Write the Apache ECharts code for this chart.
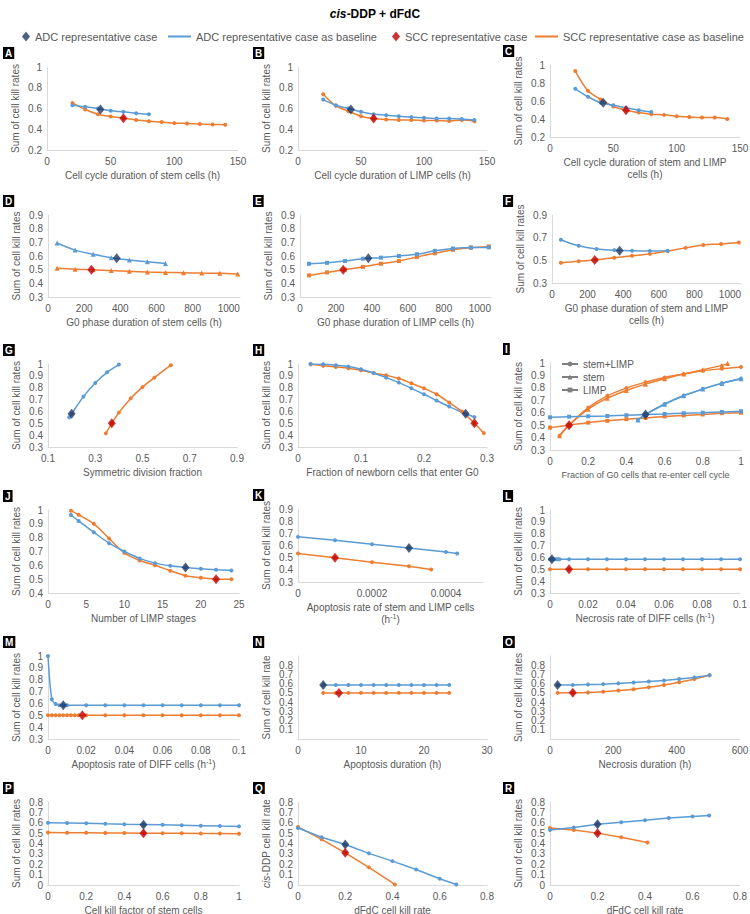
<!DOCTYPE html>
<html><head><meta charset="utf-8">
<script src="https://cdn.jsdelivr.net/npm/echarts@6/dist/echarts.min.js"></script>
<style>html,body{margin:0;padding:0;background:#fff}#c{width:750px;height:914px}</style>
</head><body><div id="c"></div>
<script>
// ---------------- DATA ----------------
const A_adcBase = [[20,0.632],[30,0.616],[40,0.6],[50,0.578],[60,0.568],[70,0.555],[80,0.545]];
const A_sccBase = [[20,0.654],[30,0.59],[40,0.545],[50,0.523],[60,0.507],[70,0.49],[80,0.478],[90,0.469],[100,0.459],[110,0.456],[120,0.45],[130,0.446],[140,0.443]];
const A_adc = [[42,0.59]], A_scc = [[60,0.505]];

const B_adcBase = [[20,0.686],[30,0.632],[40,0.6],[50,0.568],[60,0.545],[70,0.536],[80,0.526],[90,0.517],[100,0.51],[110,0.504],[120,0.504],[130,0.498],[140,0.49]];
const B_sccBase = [[20,0.738],[30,0.626],[40,0.574],[50,0.526],[60,0.504],[70,0.494],[80,0.49],[90,0.49],[100,0.485],[110,0.485],[120,0.48],[130,0.488],[140,0.478]];
const B_adc = [[42,0.59]], B_scc = [[60,0.504]];

const C_adcBase = [[20,0.736],[30,0.647],[40,0.58],[50,0.553],[60,0.524],[70,0.498],[80,0.479]];
const C_sccBase = [[20,0.933],[30,0.713],[40,0.617],[50,0.539],[60,0.498],[70,0.472],[80,0.453],[90,0.446],[100,0.431],[110,0.423],[120,0.416],[130,0.416],[140,0.401]];
const C_adc = [[42,0.58]], C_scc = [[60,0.498]];

const D_adcBase = [[50,0.695],[150,0.643],[250,0.613],[350,0.588],[450,0.57],[550,0.558],[650,0.545]];
const D_sccBase = [[50,0.51],[150,0.503],[250,0.5],[350,0.493],[450,0.488],[550,0.483],[650,0.48],[750,0.478],[850,0.475],[950,0.473],[1050,0.468]];
const D_adc = [[380,0.583]], D_scc = [[240,0.5]];

const E_adcBase = [[50,0.543],[150,0.55],[250,0.563],[350,0.58],[450,0.588],[550,0.6],[650,0.613],[750,0.638],[850,0.655],[950,0.663],[1050,0.663]];
const E_sccBase = [[50,0.458],[150,0.48],[250,0.5],[350,0.52],[450,0.543],[550,0.563],[650,0.593],[750,0.62],[850,0.645],[950,0.66],[1050,0.67]];
const E_adc = [[380,0.583]], E_scc = [[240,0.5]];

const F_adcBase = [[50,0.682],[150,0.628],[250,0.6],[350,0.59],[450,0.585],[550,0.583],[650,0.585]];
const F_sccBase = [[50,0.478],[150,0.492],[250,0.505],[350,0.523],[450,0.54],[550,0.557],[650,0.582],[750,0.61],[850,0.635],[950,0.645],[1050,0.658]];
const F_adc = [[380,0.585]], F_scc = [[240,0.503]];

const G_adcBase = [[0.19,0.55],[0.2,0.58],[0.25,0.725],[0.3,0.84],[0.35,0.93],[0.4,0.995]];
const G_sccBase = [[0.345,0.415],[0.37,0.5],[0.4,0.59],[0.45,0.71],[0.5,0.805],[0.55,0.885],[0.62,0.99]];
const G_adc = [[0.2,0.58]], G_scc = [[0.37,0.5]];

const H_adcBase = [[0.02,1.0],[0.04,0.997],[0.06,0.989],[0.08,0.978],[0.1,0.955],[0.12,0.924],[0.14,0.885],[0.16,0.843],[0.18,0.795],[0.2,0.745],[0.22,0.692],[0.24,0.641],[0.266,0.58],[0.28,0.552]];
const H_sccBase = [[0.02,0.997],[0.04,0.986],[0.06,0.975],[0.08,0.964],[0.1,0.947],[0.12,0.924],[0.14,0.905],[0.16,0.877],[0.18,0.837],[0.2,0.795],[0.22,0.745],[0.24,0.675],[0.26,0.6],[0.28,0.5],[0.295,0.417]];
const H_adc = [[0.266,0.58]], H_scc = [[0.28,0.5]];

const I_adcStemLimp = [[0.46,0.542],[0.5,0.585],[0.6,0.67],[0.7,0.738],[0.8,0.792],[0.9,0.838],[1.0,0.876]];
const I_adcStem = [[0.46,0.542],[0.5,0.585],[0.6,0.668],[0.7,0.736],[0.8,0.79],[0.9,0.836],[1.0,0.874]];
const I_adcLimp = [[0,0.563],[0.1,0.568],[0.2,0.571],[0.3,0.574],[0.4,0.58],[0.5,0.585],[0.6,0.59],[0.7,0.596],[0.8,0.6],[0.9,0.606],[1.0,0.612]];
const I_sccStemLimp = [[0.05,0.415],[0.1,0.5],[0.2,0.641],[0.3,0.736],[0.4,0.798],[0.5,0.846],[0.6,0.884],[0.7,0.911],[0.8,0.938],[0.9,0.954],[1.0,0.968]];
const I_sccStem = [[0.05,0.415],[0.1,0.5],[0.2,0.628],[0.3,0.717],[0.4,0.779],[0.5,0.83],[0.6,0.873],[0.7,0.911],[0.8,0.946],[0.9,0.981],[0.93,0.995]];
const I_sccLimp = [[0,0.48],[0.1,0.5],[0.2,0.52],[0.3,0.535],[0.4,0.548],[0.5,0.558],[0.6,0.57],[0.7,0.578],[0.8,0.586],[0.9,0.596],[1.0,0.6]];
const I_adc = [[0.5,0.585]], I_scc = [[0.1,0.5]];

const J_adcBase = [[3,0.964],[4,0.921],[6,0.839],[8,0.76],[10,0.7],[12,0.65],[14,0.616],[16,0.597],[18,0.585],[20,0.575],[22,0.568],[24,0.563]];
const J_sccBase = [[3,0.995],[4,0.966],[6,0.9],[8,0.794],[10,0.69],[12,0.635],[14,0.6],[16,0.561],[18,0.525],[20,0.51],[22,0.5],[24,0.5]];
const J_adc = [[18,0.585]], J_scc = [[22,0.5]];

const K_adcBase = [[0,0.671],[0.0001,0.643],[0.0002,0.611],[0.0003,0.58],[0.0004,0.546],[0.00043,0.534]];
const K_sccBase = [[0,0.534],[0.0001,0.5],[0.0002,0.463],[0.0003,0.429],[0.00036,0.403]];
const K_adc = [[0.0003,0.58]], K_scc = [[0.0001,0.5]];

const L_adcBase = [[0,0.585],[0.001,0.585],[0.002,0.585],[0.003,0.585],[0.004,0.585],[0.005,0.585],[0.01,0.585],[0.02,0.585],[0.03,0.585],[0.04,0.585],[0.05,0.585],[0.06,0.585],[0.07,0.585],[0.08,0.585],[0.09,0.585],[0.1,0.585]];
const L_sccBase = [[0,0.5],[0.01,0.5],[0.02,0.5],[0.03,0.5],[0.04,0.5],[0.05,0.5],[0.06,0.5],[0.07,0.5],[0.08,0.5],[0.09,0.5],[0.1,0.5]];
const L_adc = [[0.001,0.585]], L_scc = [[0.01,0.5]];

const M_adcBase = [[0,1.0],[0.002,0.635],[0.004,0.595],[0.006,0.585],[0.008,0.585],[0.01,0.585],[0.02,0.585],[0.03,0.585],[0.04,0.585],[0.05,0.585],[0.06,0.585],[0.07,0.585],[0.08,0.585],[0.09,0.585],[0.1,0.585]];
const M_sccBase = [[0,0.5],[0.002,0.5],[0.004,0.5],[0.006,0.5],[0.008,0.5],[0.01,0.5],[0.012,0.5],[0.014,0.5],[0.016,0.5],[0.02,0.5],[0.03,0.5],[0.04,0.5],[0.05,0.5],[0.06,0.5],[0.07,0.5],[0.08,0.5],[0.09,0.5],[0.1,0.5]];
const M_adc = [[0.008,0.585]], M_scc = [[0.018,0.5]];

const N_adcBase = [[4,0.585],[6,0.585],[8,0.585],[10,0.585],[12,0.585],[14,0.585],[16,0.585],[18,0.585],[20,0.585],[22,0.585],[24,0.585]];
const N_sccBase = [[4,0.5],[6,0.5],[8,0.5],[10,0.5],[12,0.5],[14,0.5],[16,0.5],[18,0.5],[20,0.5],[22,0.5],[24,0.5]];
const N_adc = [[4,0.585]], N_scc = [[6.5,0.5]];

const O_adcBase = [[24,0.585],[72,0.586],[120,0.59],[168,0.595],[216,0.603],[264,0.612],[312,0.623],[360,0.635],[408,0.65],[456,0.668],[504,0.69]];
const O_sccBase = [[24,0.5],[72,0.501],[120,0.505],[168,0.513],[216,0.525],[264,0.54],[312,0.56],[360,0.585],[408,0.615],[456,0.65],[504,0.695]];
const O_adc = [[24,0.585]], O_scc = [[72,0.501]];

const P_adcBase = [[0,0.6],[0.1,0.598],[0.2,0.595],[0.3,0.59],[0.4,0.586],[0.5,0.583],[0.6,0.58],[0.7,0.576],[0.8,0.572],[0.9,0.568],[1.0,0.565]];
const P_sccBase = [[0,0.505],[0.1,0.504],[0.2,0.503],[0.3,0.502],[0.4,0.501],[0.5,0.5],[0.6,0.499],[0.7,0.498],[0.8,0.497],[0.9,0.496],[1.0,0.495]];
const P_adc = [[0.5,0.58]], P_scc = [[0.5,0.5]];

const Q_adcBase = [[0,0.55],[0.1,0.46],[0.2,0.39],[0.3,0.305],[0.4,0.23],[0.5,0.15],[0.6,0.06],[0.67,0.005]];
const Q_sccBase = [[0,0.56],[0.1,0.44],[0.2,0.31],[0.3,0.17],[0.41,0.005]];
const Q_adc = [[0.2,0.39]], Q_scc = [[0.2,0.31]];

const R_adcBase = [[0,0.53],[0.1,0.555],[0.2,0.585],[0.3,0.605],[0.4,0.625],[0.5,0.645],[0.6,0.66],[0.67,0.67]];
const R_sccBase = [[0,0.55],[0.1,0.53],[0.2,0.5],[0.3,0.46],[0.41,0.41]];
const R_adc = [[0.2,0.585]], R_scc = [[0.2,0.5]];

const panelLetters = ['A','B','C','D','E','F','G','H','I','J','K','L','M','N','O','P','Q','R'];
const xTitles = [
 'Cell cycle duration of stem cells (h)','Cell cycle duration of LIMP cells (h)','Cell cycle duration of stem and LIMP\ncells (h)',
 'G0 phase duration of stem cells (h)','G0 phase duration of LIMP cells (h)','G0 phase duration of stem and LIMP\ncells (h)',
 'Symmetric division fraction','Fraction of newborn cells that enter G0','Fraction of G0 cells that re-enter cell cycle',
 'Number of LIMP stages','Apoptosis rate of stem and LIMP cells\n(h{sup|-1})','Necrosis rate of DIFF cells (h{sup|-1})',
 'Apoptosis rate of DIFF cells (h{sup|-1})','Apoptosis duration (h)','Necrosis duration (h)',
 'Cell kill factor of stem cells','dFdC cell kill rate','dFdC cell kill rate'];
const yTitleMain = 'Sum of cell kill rates';
const yTitleN = 'Sum of cell kill rate';
const yTitleQ = '{it|cis}-DDP cell kill rate';
const legendNames = ['ADC representative case','ADC representative case as baseline','SCC representative case','SCC representative case as baseline'];
const innerLegendNames = ['stem+LIMP','stem','LIMP'];
// axis ranges [xmin,xmax,xtickInterval,xlabelStep,ymin,ymax,yint]
const axisRanges = [
 [0,150,50,50,0.2,1,0.2],[0,150,50,50,0.2,1,0.2],[0,150,50,50,0.2,1,0.2],
 [0,1062,200,200,0.3,0.9,0.1],[0,1062,200,200,0.3,0.9,0.1],[0,1062,200,200,0.3,0.9,0.2],
 [0.1,0.9,0.1,0.2,0.3,1,0.1],[0,0.3,0.1,0.1,0.3,1,0.1],[0,1,0.2,0.2,0.3,1,0.1],
 [0,25,5,5,0.4,1,0.1],[0,0.0005,0.0002,0.0002,0.3,0.9,0.1],[0,0.1,0.02,0.02,0.3,1,0.1],
 [0,0.1,0.02,0.02,0.3,1,0.1],[0,30,10,10,0,0.9,0.1],[0,600,200,200,0,0.9,0.1],
 [0,1,0.2,0.2,0,0.8,0.1],[0,0.8,0.2,0.2,0,0.8,0.1],[0,0.8,0.2,0.2,0,0.8,0.1]];

// ---------------- LAYOUT / STYLE ----------------
const BLUE = '#5B9BD5', ORANGE = '#ED7D31', NAVY = '#1F3864', DRED = '#C00000', GREY = '#595959';
const FONT = '"Liberation Sans", Arial, sans-serif';
// plot rect per panel [left, top, right, bottom]
const rects = [
 [47,67,238,150],[298,67,487,150],[550,65,740,137],
 [48,215,240,297],[300,215,491,297],[552,215,741,283],
 [48,364,237,447],[298,364,487,447],[550,363,741,450],
 [48,510,239,593],[298,509,483,582],[550,510,740,593],
 [48,656,239,739],[298,656,487,739],[550,656,740,739],
 [48,802,239,885],[298,802,487,885],[550,802,740,885]];

const grids = [], xAxes = [], yAxes = [], series = [], titles = [];
const panelData = [
 [A_adcBase,A_sccBase,A_adc,A_scc],[B_adcBase,B_sccBase,B_adc,B_scc],[C_adcBase,C_sccBase,C_adc,C_scc],
 [D_adcBase,D_sccBase,D_adc,D_scc],[E_adcBase,E_sccBase,E_adc,E_scc],[F_adcBase,F_sccBase,F_adc,F_scc],
 [G_adcBase,G_sccBase,G_adc,G_scc],[H_adcBase,H_sccBase,H_adc,H_scc],[null,null,I_adc,I_scc],
 [J_adcBase,J_sccBase,J_adc,J_scc],[K_adcBase,K_sccBase,K_adc,K_scc],[L_adcBase,L_sccBase,L_adc,L_scc],
 [M_adcBase,M_sccBase,M_adc,M_scc],[N_adcBase,N_sccBase,N_adc,N_scc],[O_adcBase,O_sccBase,O_adc,O_scc],
 [P_adcBase,P_sccBase,P_adc,P_scc],[Q_adcBase,Q_sccBase,Q_adc,Q_scc],[R_adcBase,R_sccBase,R_adc,R_scc]];
const symbols = ['circle','circle','circle','triangle','rect','circle','circle','circle','circle','circle','circle','circle','circle','circle','circle','circle','circle','circle'];
const smoothVals = [0.3,0.3,0.3,0.3,0.3,0.4,0.3,0.3,0.3,0.3,0,0,0.3,0,0.3,0,0,0];

function lineS(name, data, color, gi, symbol, smooth) {
  return {type:'line', name, data, xAxisIndex:gi, yAxisIndex:gi, symbol, symbolSize: symbol==='triangle'?5:4,
    smooth, lineStyle:{color, width:1.5}, itemStyle:{color}, z:2, animation:false};
}
function markS(name, data, color, gi) {
  return {type:'scatter', name, data, xAxisIndex:gi, yAxisIndex:gi, symbol:'diamond', symbolSize:[8,10],
    itemStyle:{color}, z:6, animation:false};
}
const plainNum = v => String(+(+v).toPrecision(6));

rects.forEach((r, i) => {
  const [x0,x1,xi,xstep,y0,y1,yi] = axisRanges[i];
  grids.push({left:r[0], top:r[1], width:r[2]-r[0], height:r[3]-r[1], outerBoundsMode:'none'});
  const steps = (x1 - x0) / xi;
  const aligned = Math.abs(steps - Math.round(steps)) < 0.01;
  const xFmt = v => { const k = (v - x0) / xstep; return Math.abs(k - Math.round(k)) < 1e-6 ? plainNum(v) : ''; };
  xAxes.push({type:'value', gridIndex:i, min:x0, max:x1, interval:xi,
    name: xTitles[i], nameLocation:'middle', nameGap: 19,
    nameTextStyle:{color:GREY, fontFamily:FONT, fontSize: i===8?9:10, lineHeight: 12,
      rich:{sup:{fontSize:7, verticalAlign:'top', color:GREY, fontFamily:FONT, padding:[0,0,4,0]}}},
    axisLine:{show:true, lineStyle:{color:'#D9D9D9', width:1}}, axisTick:{show:false}, splitLine:{show:false},
    axisLabel:{color:GREY, fontFamily:FONT, fontSize:10, margin:6, formatter: xFmt, showMaxLabel: aligned ? true : false}});
  const yName = i===13 ? yTitleN : (i===16 ? yTitleQ : yTitleMain);
  yAxes.push({type:'value', gridIndex:i, min:y0, max:y1, interval:yi,
    name: yName, nameLocation:'middle', nameGap: 27,
    nameTextStyle:{color:GREY, fontFamily:FONT, fontSize:10, rich:{it:{fontStyle:'italic', fontSize:10, color:GREY, fontFamily:FONT}}},
    axisLine:{show:true, lineStyle:{color:'#D9D9D9', width:1}}, axisTick:{show:false}, splitLine:{show:false},
    axisLabel:{color:GREY, fontFamily:FONT, fontSize:10, margin:5, formatter: plainNum}});
  titles.push({text: panelLetters[i], left: (i%3===0?3:(i%3===1?253:503)), top: r[1]-20,
    backgroundColor:'#000', padding:[1,2,0,2],
    textStyle:{color:'#fff', fontSize:10, fontWeight:'bold', fontFamily:FONT, lineHeight:11}});
  const d = panelData[i];
  if (i === 8) {
    series.push(lineS(legendNames[3], I_sccStem, ORANGE, i, 'triangle', 0.3));
    series.push(lineS(legendNames[3], I_sccStemLimp, ORANGE, i, 'circle', 0.3));
    series.push(lineS(legendNames[3], I_sccLimp, ORANGE, i, 'rect', 0.3));
    series.push(lineS(legendNames[1], I_adcLimp, BLUE, i, 'rect', 0.3));
    series.push(lineS(legendNames[1], I_adcStem, BLUE, i, 'triangle', 0.3));
    series.push(lineS(legendNames[1], I_adcStemLimp, BLUE, i, 'circle', 0.3));
    ['circle','triangle','rect'].forEach((s, k) => {
      series.push({type:'line', name: innerLegendNames[k], data:[], xAxisIndex:i, yAxisIndex:i, symbol:s, symbolSize:6,
        lineStyle:{color:'#7F7F7F', width:1.5}, itemStyle:{color:'#7F7F7F'}});
    });
  } else {
    series.push(lineS(legendNames[3], d[1], ORANGE, i, symbols[i], smoothVals[i]));
    series.push(lineS(legendNames[1], d[0], BLUE, i, symbols[i], smoothVals[i]));
  }
  series.push(markS(legendNames[2], d[3], DRED, i));
  series.push(markS(legendNames[0], d[2], NAVY, i));
});

titles.push({text:'{i|cis}{b|-DDP + dFdC}', left:'center', top:3,
  textStyle:{rich:{i:{fontStyle:'italic', fontWeight:'bold', fontSize:12, color:'#000', fontFamily:FONT},
                   b:{fontWeight:'bold', fontSize:12, color:'#000', fontFamily:FONT}}}});

const legTxt = {color:GREY, fontFamily:FONT, fontSize:11};
const legends = [
  {data:[{name:legendNames[0], icon:'diamond'}], left:17, top:26, itemWidth:8, itemHeight:10, textStyle:legTxt, selectedMode:false},
  {data:[{name:legendNames[1], icon:'rect'}], left:163, top:26, itemWidth:23, itemHeight:2, textStyle:legTxt, selectedMode:false},
  {data:[{name:legendNames[2], icon:'diamond'}], left:387, top:26, itemWidth:8, itemHeight:10, textStyle:legTxt, selectedMode:false},
  {data:[{name:legendNames[3], icon:'rect'}], left:530, top:26, itemWidth:23, itemHeight:2, textStyle:legTxt, selectedMode:false},
  {data:innerLegendNames, orient:'vertical', left:556, top:354, itemWidth:16, itemHeight:6, itemGap:3,
   textStyle:{color:GREY, fontFamily:FONT, fontSize:10}, selectedMode:false}
];

const chart = echarts.init(document.getElementById('c'), null, {renderer:'svg'});
chart.setOption({animation:false, backgroundColor:'#fff', title:titles, legend:legends, grid:grids, xAxis:xAxes, yAxis:yAxes, series});
</script></body></html>
